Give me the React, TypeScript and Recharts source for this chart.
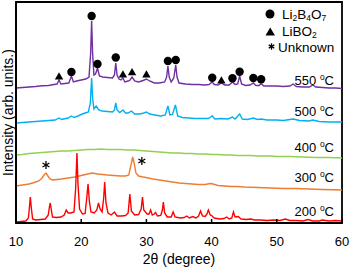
import React from "react";
import { ComposedChart, Line, Scatter, XAxis, YAxis, ReferenceArea } from "recharts";

const xTicks = [10, 20, 30, 40, 50, 60];
const seriesNames = ["550 \u00B0C", "500 \u00B0C", "400 \u00B0C", "300 \u00B0C", "200 \u00B0C"];
const seriesColors = ["#7030A0", "#00B0F0", "#92D050", "#ED7D31", "#FF0000"];

const s550: number[][] = [
  [10,135],[11,135.5],[12,136],[13,136.5],[14,137.2],[15,137.5],[15.8,138.5],[16.3,139],[16.6,143],[16.9,139],[17.5,139.5],[18.1,140],[18.5,147],[18.8,141],[19.3,142],[20,143],[20.7,144],[21.2,146],[21.45,170],[21.6,202],[21.75,170],[21.95,148],[22.2,149],[22.5,155],[22.8,147],[23.3,146],[24,145.5],[24.8,145],[25.1,148],[25.3,160],[25.5,148],[25.8,144],[26.1,143],[26.4,145],[26.7,141],[27.2,142],[27.5,143],[27.8,146],[28.2,142],[28.8,141],[29.5,142.5],[30,144],[30.5,142],[31.2,140],[32,140],[32.8,141],[33.1,146],[33.3,157],[33.5,146],[33.8,141],[34.2,145],[34.5,158],[34.7,146],[35,140],[36,139],[37,138.5],[38,138.5],[39,138],[39.6,138.5],[39.9,140],[40.1,141],[40.4,138.5],[41,138],[41.5,140],[42,138],[42.7,138],[43.2,141],[43.6,138.5],[44.0,139],[44.3,147],[44.6,139],[45.2,137.5],[45.9,138],[46.4,140],[46.8,137.5],[47.3,137.5],[47.6,139.5],[48,137],[49,137],[50,137],[51,136.5],[52,137],[52.5,139],[53,136.5],[54,136],[55,136],[55.5,138],[56,136],[57,135.5],[58,135],[59,135],[60,134.5]
];
const s500: number[][] = [
  [10,100],[11,100.5],[12,101],[13,101.5],[14,102],[15,102.5],[16,103],[16.6,105],[17,103.5],[18,105],[18.5,107],[18.9,105.5],[19.5,107],[20,108.5],[20.6,110],[21.1,111],[21.4,120],[21.6,145],[21.75,125],[21.95,114],[22.3,117],[22.7,113],[23.2,112],[24,111.5],[24.8,111],[25.1,113],[25.3,120],[25.5,113],[25.9,110.5],[26.4,113],[26.8,110],[27.2,110],[27.7,112],[28.2,109],[29,109],[29.6,110],[30,111],[30.5,109],[31.3,108],[32.2,107],[32.9,108],[33.3,117],[33.6,108],[34.0,108.5],[34.45,118],[34.8,107],[35.5,105.5],[36.5,105],[37.5,104.5],[38.5,104.5],[39.5,104.5],[40.1,107],[40.5,104],[41.5,104.5],[42.5,104],[43.2,106],[43.6,104],[44.3,109],[44.7,104],[45.5,103.5],[46.4,105],[47,103.5],[47.6,104],[48.5,103],[50,103],[51,102.5],[52.5,104],[53.5,102.5],[55,102],[55.5,103],[56.5,101.5],[58,101],[60,101]
];
const s400: number[][] = [
  [10,68],[11,68.5],[12,69.5],[13,70],[14,70.5],[15,71],[16,71.5],[17,72],[18,72],[19,72.5],[20,73],[21,73.5],[22,73.5],[23,74],[24,73.5],[25,73.5],[26,73.5],[27,73],[28,73],[29,72.5],[30,72],[31,71.5],[32,71],[33,70.5],[34,70],[35,70],[36,69.5],[37,69.5],[38,69],[39,69],[40,68.5],[41,68.5],[42,68],[43,68],[44,67.5],[45,67.5],[46,67.5],[47,67],[48,67],[49,67],[50,66.5],[52,66.5],[54,66],[56,65.5],[58,65.5],[60,65]
];
const s300: number[][] = [
  [10,37],[11,38],[12,39],[12.8,40.5],[13.5,42],[14.0,45],[14.3,48],[14.6,50],[14.9,47],[15.2,44],[15.6,43],[16.3,43.5],[17,44],[18,45],[19,46],[20,47.5],[21,49],[21.7,50],[22.5,49],[23.3,48.5],[24,48],[25,47.5],[26,47],[26.8,47],[27.3,48],[27.6,57],[27.9,66],[28.15,59],[28.4,50],[28.8,47],[29.5,46],[30.3,45],[31,44],[32,43],[33,42],[34,41],[35,40],[36,39.5],[37,39],[38,38.5],[39,38.5],[39.8,39.5],[40.2,39],[41,37.5],[42,37],[43,36.5],[44,36.5],[45,36],[47,35.5],[49,35],[51,34.5],[53,34.5],[55,34],[57,33.5],[60,33]
];
const s200: number[][] = [
  [10,1],[10.8,1.5],[11.5,2],[11.9,5],[12.05,15],[12.2,26],[12.35,15],[12.55,4],[13,3],[13.8,3.5],[14.5,4],[14.95,8],[15.1,15],[15.25,20],[15.4,14],[15.6,6],[16.2,5.5],[16.9,6],[17.4,8],[17.7,13],[18.0,10],[18.4,10],[18.9,11],[19.15,35],[19.35,70],[19.5,40],[19.75,14],[20.2,9],[20.6,9.5],[20.85,25],[21.05,39],[21.25,22],[21.5,11],[22.0,10],[22.4,13],[22.65,20],[22.9,14],[23.2,11],[23.45,25],[23.6,41],[23.8,20],[24.1,10],[24.6,8],[25.1,11],[25.5,7],[26.2,7],[26.8,7.5],[27.2,10],[27.46,29],[27.7,12],[28.2,8],[28.8,8.5],[29.2,14],[29.4,26],[29.6,13],[30.1,9],[30.4,9],[30.65,13],[30.9,8],[31.2,9],[31.4,10.5],[31.7,7],[32.2,7.5],[32.45,13],[32.6,21],[32.8,10],[33.2,6],[33.8,6],[34.1,11],[34.4,6],[35.2,5],[35.8,5.5],[36.2,7],[36.6,5],[37.1,6.5],[37.6,5],[38.0,7],[38.3,12],[38.6,7],[39.0,6.5],[39.3,9],[39.5,13],[39.8,8],[40.0,7.5],[40.4,5],[41.2,4],[41.9,4.5],[42.3,6],[42.7,4],[43.1,5],[43.35,11],[43.6,6],[44.1,6.5],[44.5,4],[45.3,3.5],[46,4],[46.6,3],[47.5,3],[48.5,2.5],[49.5,3],[50.5,2.5],[51.3,4],[52,2.5],[53,2.5],[54,2],[54.8,3.5],[55.5,2],[56.5,2],[57,3],[58,2],[59,2.5],[60,2]
];

const li2b4o7Marks: number[][] = [[18.5,151],[21.6,207],[22.5,159],[25.3,165.5],[33.3,162],[34.5,163],[40.1,145.3],[43.2,144.7],[44.3,151.3],[46.4,145],[47.6,143.7]];
const libo2Marks: number[][] = [[16.6,147],[26.4,149],[27.8,151.3],[30.0,149],[41.5,143]];
const unknownMarks: number[][] = [[14.6,58],[29.3,62]];

const toPts = (a: number[][]) => a.map(([x, y]) => ({ x, y }));
const allSeries = [s550, s500, s400, s300, s200];

const FONT = "'Liberation Sans', Arial, Helvetica, sans-serif";

const DotShape = (p: any) => <circle cx={p.cx} cy={p.cy} r={4.2} fill="#000" />;
const TriShape = (p: any) => (
  <polygon points={`${p.cx - 4.2},${p.cy + 3.6} ${p.cx + 4.2},${p.cy + 3.6} ${p.cx},${p.cy - 3.8}`} fill="#000" />
);
const Asterisk = ({ cx, cy, r }: { cx: number; cy: number; r: number }) => {
  const arms = [90, 30, 150].map((a) => {
    const rad = (a * Math.PI) / 180;
    const dx = Math.cos(rad) * r;
    const dy = Math.sin(rad) * r;
    return <line key={a} x1={cx - dx} y1={cy - dy} x2={cx + dx} y2={cy + dy} stroke="#000" strokeWidth={1.3} />;
  });
  return <g>{arms}</g>;
};
const AstShape = (p: any) => <Asterisk cx={p.cx} cy={p.cy} r={4} />;

const tempLabelY = [85, 116, 152, 182, 216];

export default function App() {
  return (
    <div style={{ position: "absolute", left: 0, top: 0, width: 350, height: 268, background: "#fff" }}>
      <ComposedChart width={350} height={268} margin={{ top: 2, right: 8, bottom: 15, left: 0 }}>
        <XAxis
          type="number"
          dataKey="x"
          domain={[10, 60]}
          ticks={xTicks}
          allowDataOverflow
          height={30}
          tickSize={-4}
          tickMargin={18}
          tickLine={{ stroke: "#000", strokeWidth: 1.5 }}
          axisLine={{ stroke: "#000", strokeWidth: 1.8 }}
          tick={{ fontSize: 13, fill: "#000", fontFamily: FONT }}
          label={{ value: "2\u03B8 (degree)", position: "insideBottom", offset: -11, fontSize: 14, fill: "#000", fontFamily: FONT }}
        />
        <YAxis
          type="number"
          domain={[0, 221]}
          allowDataOverflow
          width={16}
          tick={false}
          tickLine={false}
          axisLine={{ stroke: "#000", strokeWidth: 1.8 }}
          label={{ value: "Intensity (arb. units.)", angle: -90, position: "center", fontSize: 14, fill: "#000", fontFamily: FONT }}
        />
        <ReferenceArea x1={10} x2={60} y1={0} y2={221} fill="none" stroke="#000" strokeWidth={1.8} ifOverflow="visible" />
        {allSeries.map((s, i) => (
          <Line
            key={seriesNames[i]}
            name={seriesNames[i]}
            data={toPts(s)}
            dataKey="y"
            type="linear"
            stroke={seriesColors[i]}
            strokeWidth={1.4}
            dot={false}
            activeDot={false}
            isAnimationActive={false}
          />
        ))}
        <Scatter data={toPts(li2b4o7Marks)} dataKey="y" shape={DotShape} isAnimationActive={false} />
        <Scatter data={toPts(libo2Marks)} dataKey="y" shape={TriShape} isAnimationActive={false} />
        <Scatter data={toPts(unknownMarks)} dataKey="y" shape={AstShape} isAnimationActive={false} />
      </ComposedChart>
      <svg width={350} height={268} style={{ position: "absolute", left: 0, top: 0, pointerEvents: "none" }} fontFamily={FONT}>
        <circle cx={270} cy={14} r={4.5} fill="#000" />
        <text x={282} y={18.5} fontSize={13.5} fill="#000">
          Li<tspan fontSize={8.5} dy={2.5}>2</tspan>
          <tspan dy={-2.5}>B</tspan><tspan fontSize={8.5} dy={2.5}>4</tspan>
          <tspan dy={-2.5}>O</tspan><tspan fontSize={8.5} dy={2.5}>7</tspan>
        </text>
        <polygon points="265.5,35.5 275,35.5 270.2,27.5" fill="#000" />
        <text x={282} y={35.5} fontSize={13.5} fill="#000">
          LiBO<tspan fontSize={8.5} dy={2}>2</tspan>
        </text>
        <Asterisk cx={271.5} cy={46.5} r={3.2} />
        <text x={278} y={52} fontSize={13.5} fill="#000">Unknown</text>
        {seriesNames.map((n, i) => (
          <text key={n} x={334} y={tempLabelY[i]} fontSize={13} fill="#000" textAnchor="end">
            {n.split(" ")[0] + " "}
            <tspan fontSize={8.5} dy={-5}>o</tspan>
            <tspan dy={5}>C</tspan>
          </text>
        ))}
      </svg>
    </div>
  );
}
